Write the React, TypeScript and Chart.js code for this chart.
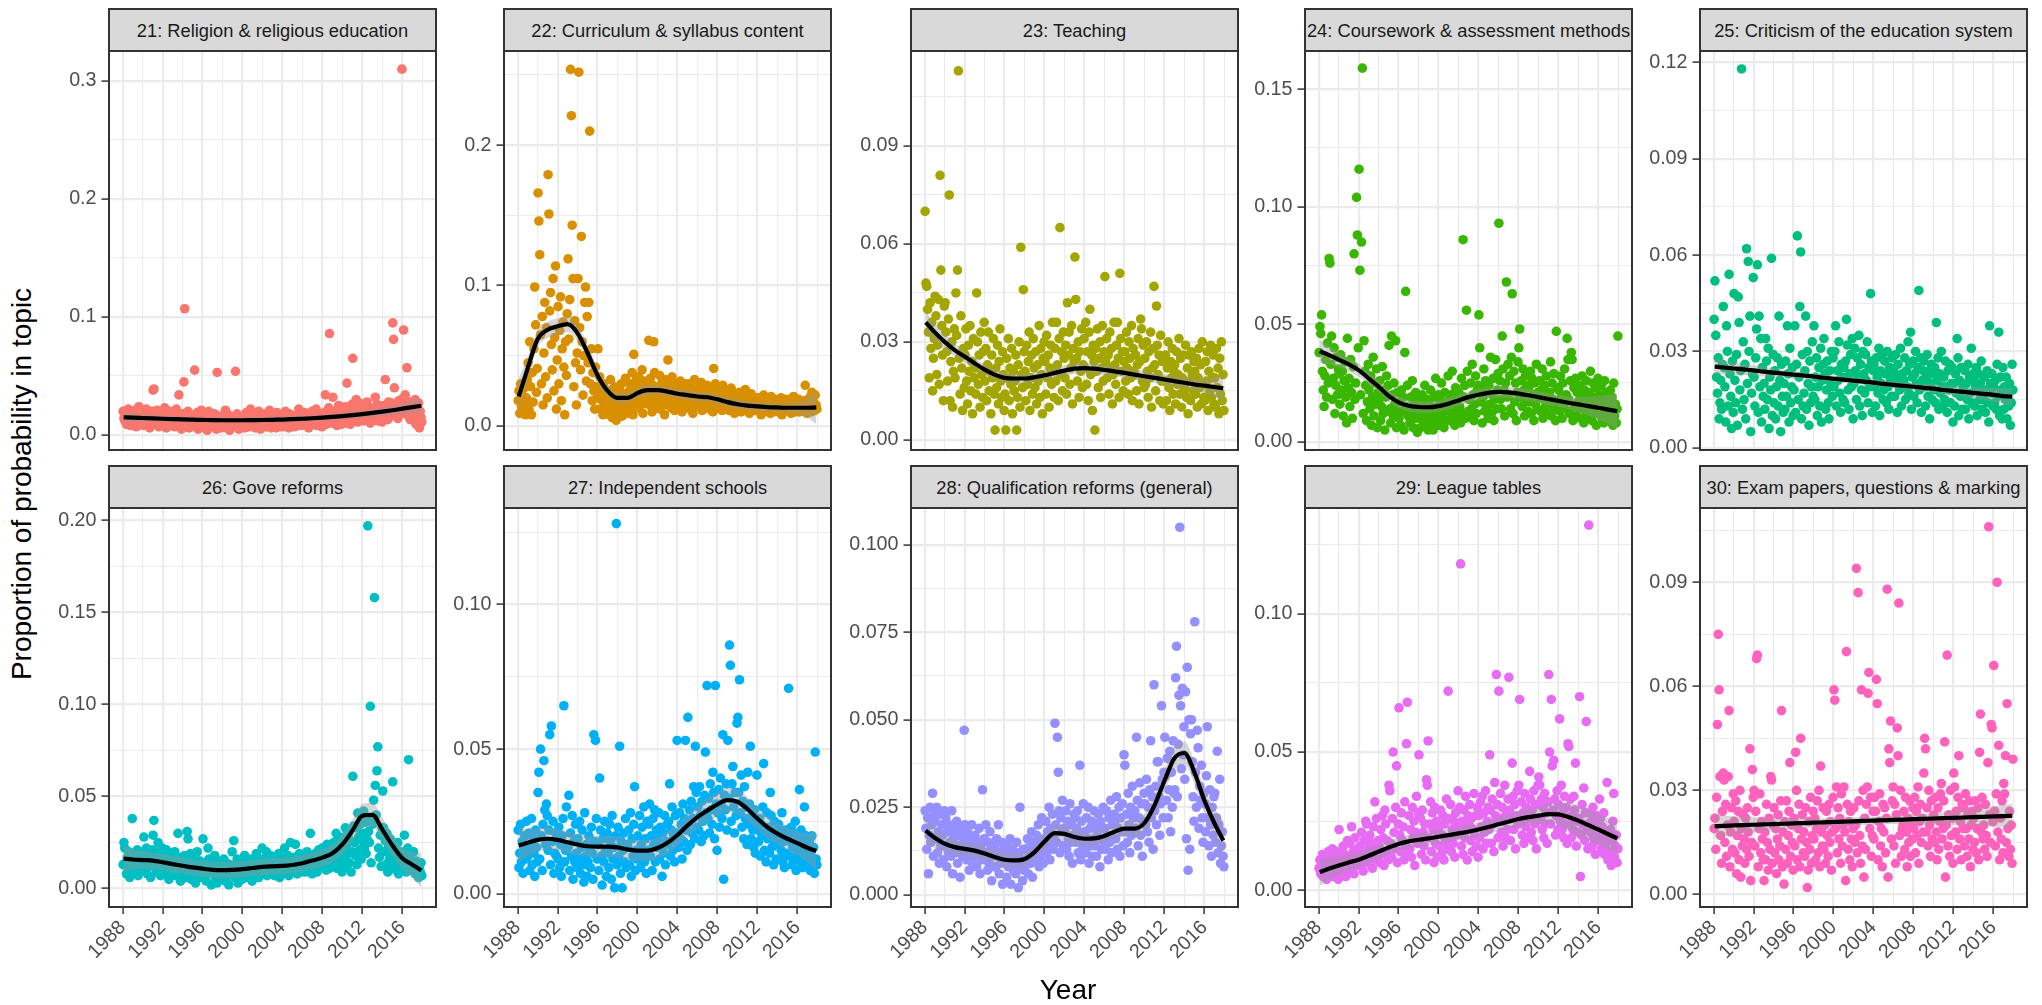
import React, { useEffect, useRef } from 'react';
import { Chart, registerables } from 'chart.js';

Chart.register(...registerables);

const FONT = '"Liberation Sans", Arial, Helvetica, sans-serif';
Chart.defaults.font.family = FONT;

// Monthly observations, Jan 1988 .. Dec 2017 (one row per year).
// Values are topic proportions expressed in thousandths (12 = 0.012).
const FIRST_YEAR = 1988;

const religion = [
  20, 14, 12, 18, 9, 15, 22, 11, 16, 8, 13, 19,
  10, 17, 21, 12, 7, 15, 13, 24, 11, 9, 16, 14,
  12, 8, 19, 15, 22, 10, 13, 17, 6, 14, 11, 20,
  38, 39, 13, 9, 16, 21, 11, 7, 14, 18, 10, 12,
  15, 9, 23, 12, 6, 17, 11, 14, 20, 8, 13, 10,
  11, 19, 7, 14, 22, 10, 16, 34, 9, 13, 5, 18,
  12, 45, 107, 8, 15, 11, 20, 6, 14, 17, 9, 13,
  10, 16, 55, 7, 12, 19, 5, 14, 11, 8, 21, 13,
  9, 14, 6, 17, 11, 4, 13, 20, 8, 15, 10, 12,
  7, 13, 18, 10, 5, 53, 12, 9, 16, 6, 14, 11,
  11, 8, 15, 21, 6, 12, 9, 17, 4, 13, 10, 7,
  14, 9, 12, 54, 7, 18, 11, 5, 15, 10, 13, 8,
  10, 16, 6, 12, 19, 9, 14, 7, 11, 22, 8, 13,
  9, 12, 17, 6, 11, 14, 8, 20, 10, 5, 15, 12,
  13, 8, 11, 18, 7, 15, 10, 12, 21, 9, 6, 14,
  11, 16, 9, 13, 6, 19, 12, 8, 14, 10, 17, 7,
  12, 9, 15, 20, 8, 11, 13, 6, 18, 10, 14, 9,
  15, 10, 7, 13, 17, 11, 9, 22, 12, 8, 14, 16,
  10, 14, 19, 8, 12, 16, 11, 6, 15, 13, 9, 20,
  13, 17, 9, 12, 22, 8, 15, 11, 18, 10, 14, 7,
  16, 12, 19, 34, 9, 14, 11, 23, 86, 13, 17, 10,
  32, 15, 11, 20, 13, 8, 18, 25, 12, 16, 9, 22,
  14, 19, 12, 24, 10, 44, 17, 13, 21, 9, 16, 26,
  65, 18, 13, 22, 30, 15, 11, 20, 27, 14, 17, 24,
  19, 12, 25, 16, 21, 28, 13, 18, 23, 10, 20, 15,
  22, 17, 14, 32, 19, 26, 12, 21, 16, 24, 18, 11,
  20, 25, 15, 47, 18, 23, 13, 28, 21, 16, 27, 19,
  95, 81, 40, 22, 17, 26, 14, 29, 20, 24, 18, 310,
  31, 89, 25, 34, 19, 57, 22, 16, 28, 13, 21, 26,
  18, 24, 13, 30, 9, 22, 17, 27, 6, 20, 15, 11,
];

const curriculum = [
  18, 25, 9, 30, 14, 22, 11, 27, 16, 8, 20, 33,
  45, 12, 60, 28, 8, 38, 17, 55, 99, 72, 24, 41,
  166, 146, 122, 65, 30, 78, 15, 52, 88, 35, 70, 20,
  179, 151, 82, 95, 58, 40, 105, 25, 63, 114, 12, 47,
  85, 30, 68, 92, 18, 55, 74, 42, 8, 60, 36, 80,
  119, 62, 90, 254, 221, 143, 105, 28, 75, 45, 15, 52,
  105, 252, 70, 40, 135, 60, 22, 50, 88, 99, 32, 78,
  45, 88, 210, 30, 55, 18, 38, 25, 12, 42, 28, 20,
  55, 22, 35, 12, 28, 18, 8, 30, 15, 24, 10, 20,
  14, 25, 8, 33, 18, 6, 22, 12, 28, 16, 4, 20,
  19, 10, 26, 14, 30, 7, 22, 16, 12, 34, 18, 9,
  24, 15, 30, 11, 20, 38, 8, 51, 27, 17, 33, 13,
  22, 35, 14, 28, 18, 40, 9, 25, 32, 16, 30, 20,
  26, 61, 15, 34, 21, 10, 29, 60, 38, 18, 24, 13,
  20, 28, 36, 12, 23, 31, 17, 26, 8, 33, 21, 15,
  47, 18, 29, 24, 13, 35, 20, 27, 11, 22, 30, 16,
  21, 26, 15, 32, 18, 10, 28, 23, 14, 30, 19, 25,
  17, 24, 30, 12, 22, 27, 9, 20, 33, 15, 26, 19,
  22, 14, 28, 19, 31, 11, 24, 17, 26, 13, 21, 29,
  18, 25, 12, 20, 16, 27, 10, 41, 23, 30, 15, 21,
  20, 13, 26, 17, 24, 11, 29, 19, 15, 22, 12, 25,
  16, 23, 11, 20, 27, 14, 18, 24, 9, 21, 17, 13,
  19, 12, 24, 16, 10, 22, 15, 20, 13, 26, 11, 18,
  14, 21, 9, 17, 23, 12, 16, 19, 11, 15, 20, 13,
  17, 11, 20, 14, 8, 18, 13, 22, 10, 16, 12, 19,
  12, 18, 15, 9, 21, 13, 16, 10, 19, 14, 11, 17,
  15, 10, 18, 13, 20, 8, 16, 12, 14, 19, 11, 13,
  11, 17, 13, 19, 9, 15, 12, 21, 14, 10, 16, 12,
  14, 19, 10, 16, 12, 13, 15, 11, 18, 29, 17, 9,
  16, 12, 20, 14, 10, 24, 13, 17, 11, 22, 15, 12,
];

const teaching = [
  70, 48, 47, 40, 33, 19, 42, 28, 36, 15, 25, 31,
  44, 38, 20, 29, 43, 17, 81, 52, 35, 26, 12, 41,
  42, 33, 27, 18, 37, 75, 12, 24, 30, 10, 21, 34,
  19, 45, 32, 52, 113, 25, 14, 38, 22, 9, 28, 16,
  26, 34, 18, 11, 29, 21, 35, 15, 24, 8, 31, 19,
  22, 14, 45, 30, 17, 26, 10, 33, 20, 13, 27, 36,
  18, 28, 12, 23, 33, 15, 21, 8, 26, 19, 31, 14,
  3, 22, 16, 29, 11, 24, 34, 18, 13, 27, 20, 9,
  14, 3, 25, 19, 31, 12, 22, 17, 28, 8, 21, 15,
  18, 26, 3, 13, 23, 30, 10, 59, 20, 16, 46, 27,
  21, 12, 29, 17, 24, 33, 9, 19, 26, 14, 31, 22,
  16, 27, 11, 23, 18, 35, 13, 28, 20, 8, 25, 30,
  24, 14, 32, 19, 26, 10, 22, 29, 17, 36, 21, 13,
  28, 18, 36, 23, 12, 31, 65, 20, 27, 15, 33, 25,
  19, 29, 14, 42, 26, 33, 17, 22, 35, 11, 28, 24,
  56, 43, 25, 18, 30, 13, 27, 21, 34, 16, 23, 31,
  22, 36, 17, 27, 12, 33, 40, 20, 26, 9, 29, 24,
  3, 28, 21, 34, 16, 25, 30, 13, 22, 35, 18, 27,
  50, 24, 31, 19, 26, 14, 33, 22, 28, 11, 20, 36,
  23, 17, 29, 36, 25, 13, 51, 31, 21, 27, 15, 24,
  27, 18, 33, 22, 14, 30, 25, 19, 35, 12, 28, 21,
  20, 26, 15, 23, 31, 11, 24, 37, 34, 18, 29, 16,
  25, 17, 30, 21, 13, 27, 19, 33, 10, 22, 28, 47,
  23, 15, 41, 29, 20, 26, 12, 32, 18, 24, 11, 25,
  18, 26, 12, 22, 30, 16, 9, 24, 19, 28, 14, 21,
  23, 11, 27, 17, 20, 31, 14, 25, 10, 19, 26, 15,
  16, 29, 13, 22, 8, 26, 18, 12, 27, 20, 15, 24,
  21, 14, 25, 10, 19, 28, 16, 23, 11, 30, 17, 13,
  12, 24, 18, 27, 9, 21, 15, 29, 13, 19, 26, 11,
  19, 10, 28, 16, 22, 8, 25, 14, 30, 12, 20, 9,
];

const coursework = [
  38, 49, 46, 54, 30, 22, 15, 28, 35, 19, 42, 25,
  78, 76, 33, 45, 18, 27, 40, 12, 24, 36, 20, 31,
  29, 16, 37, 22, 30, 11, 26, 34, 19, 8, 44, 23,
  27, 15, 35, 21, 10, 32, 80, 18, 25, 104, 88, 40,
  116, 73, 20, 85, 159, 12, 43, 30, 24, 9, 17, 33,
  22, 14, 28, 7, 19, 36, 11, 25, 16, 31, 6, 21,
  18, 26, 9, 15, 32, 12, 22, 5, 19, 28, 13, 24,
  41, 14, 8, 45, 20, 11, 25, 16, 43, 6, 21, 13,
  10, 17, 7, 22, 13, 19, 5, 38, 64, 15, 24, 11,
  14, 8, 19, 12, 26, 6, 16, 10, 21, 13, 4, 18,
  10, 17, 6, 13, 20, 9, 15, 24, 7, 12, 18, 5,
  16, 11, 22, 8, 14, 5, 19, 12, 27, 9, 15, 20,
  7, 18, 12, 25, 10, 15, 6, 21, 13, 17, 9, 28,
  13, 9, 20, 16, 30, 11, 18, 7, 23, 14, 10, 19,
  21, 15, 8, 27, 12, 86, 19, 24, 10, 56, 30, 13,
  18, 11, 25, 14, 33, 20, 9, 16, 28, 12, 22, 24,
  54, 40, 17, 23, 8, 19, 31, 13, 26, 15, 21, 10,
  24, 16, 36, 12, 20, 27, 9, 18, 35, 14, 22, 29,
  93, 26, 18, 14, 45, 31, 22, 11, 25, 68, 19, 33,
  20, 28, 14, 36, 63, 12, 30, 17, 25, 9, 21, 34,
  40, 48, 19, 26, 15, 31, 22, 11, 28, 18, 24, 13,
  23, 17, 30, 12, 27, 20, 9, 25, 16, 33, 14, 21,
  19, 26, 13, 22, 31, 10, 18, 24, 15, 28, 12, 20,
  16, 21, 34, 11, 25, 18, 29, 14, 9, 47, 23, 17,
  22, 13, 28, 19, 10, 25, 16, 31, 14, 20, 44, 35,
  18, 12, 26, 38, 35, 9, 23, 15, 27, 11, 21, 17,
  14, 24, 10, 19, 28, 15, 8, 22, 13, 26, 18, 11,
  21, 13, 30, 16, 9, 25, 19, 12, 23, 7, 17, 27,
  12, 20, 15, 24, 10, 18, 8, 26, 14, 21, 11, 16,
  17, 9, 22, 13, 19, 7, 25, 11, 16, 8, 14, 45,
];

const criticism = [
  40, 52, 35, 22, 17, 28, 9, 14, 21, 12, 26, 44,
  25, 19, 8, 38, 30, 13, 54, 23, 16, 6, 27, 11,
  48, 21, 14, 29, 7, 47, 39, 18, 24, 118, 12, 33,
  15, 26, 9, 62, 20, 58, 30, 41, 5, 17, 23, 53,
  22, 13, 28, 37, 57, 11, 41, 19, 34, 8, 25, 16,
  20, 12, 34, 27, 15, 31, 6, 22, 18, 59, 10, 29,
  14, 24, 9, 19, 28, 13, 41, 21, 5, 26, 16, 11,
  20, 12, 27, 16, 38, 23, 8, 31, 14, 19, 25, 10,
  18, 38, 11, 26, 66, 15, 22, 44, 61, 9, 29, 13,
  17, 24, 41, 12, 30, 20, 7, 27, 14, 19, 33, 16,
  38, 15, 22, 28, 10, 19, 25, 13, 31, 8, 21, 26,
  34, 23, 12, 18, 27, 14, 9, 24, 20, 30, 16, 28,
  19, 30, 38, 13, 24, 21, 33, 17, 11, 26, 22, 15,
  25, 14, 27, 40, 32, 18, 12, 23, 29, 19, 34, 9,
  20, 31, 24, 15, 28, 22, 35, 13, 26, 18, 10, 30,
  23, 17, 29, 21, 33, 14, 25, 19, 48, 27, 11, 24,
  26, 19, 13, 28, 22, 17, 31, 10, 24, 20, 29, 15,
  18, 27, 23, 14, 30, 19, 12, 25, 21, 16, 28, 22,
  24, 16, 29, 20, 11, 26, 22, 18, 31, 13, 23, 19,
  21, 28, 15, 24, 19, 33, 17, 26, 36, 12, 22, 27,
  16, 23, 30, 20, 14, 25, 49, 18, 28, 11, 21, 24,
  27, 19, 13, 22, 29, 16, 24, 9, 20, 26, 15, 23,
  18, 25, 14, 39, 21, 28, 12, 23, 17, 30, 19, 13,
  22, 15, 27, 19, 11, 24, 18, 26, 14, 20, 25, 8,
  20, 13, 23, 17, 34, 28, 10, 21, 16, 25, 12, 19,
  18, 24, 12, 20, 15, 26, 9, 22, 17, 31, 14, 23,
  21, 13, 19, 25, 10, 18, 23, 15, 20, 27, 12, 16,
  15, 22, 11, 18, 24, 14, 8, 38, 20, 17, 23, 13,
  19, 14, 21, 12, 26, 16, 36, 10, 22, 18, 9, 25,
  12, 19, 15, 22, 9, 17, 13, 20, 7, 14, 26, 18,
];

const gove = [
  13, 25, 22, 14, 8, 17, 11, 20, 6, 15, 10, 38,
  18, 12, 19, 9, 16, 21, 7, 14, 18, 11, 13, 20,
  16, 28, 10, 15, 22, 8, 19, 12, 17, 6, 14, 21,
  29, 37, 13, 20, 9, 16, 25, 11, 18, 7, 15, 22,
  14, 19, 8, 12, 21, 10, 17, 5, 13, 16, 9, 18,
  15, 11, 20, 7, 14, 9, 30, 17, 12, 4, 16, 10,
  13, 8, 18, 11, 6, 31, 27, 15, 10, 19, 5, 12,
  14, 9, 17, 3, 12, 20, 8, 11, 15, 6, 13, 10,
  27, 10, 7, 14, 4, 11, 22, 16, 9, 13, 2, 12,
  8, 13, 18, 6, 10, 3, 15, 9, 12, 5, 11, 14,
  9, 16, 12, 4, 14, 7, 11, 2, 13, 8, 10, 20,
  10, 26, 6, 13, 9, 16, 3, 11, 8, 14, 12, 5,
  9, 12, 18, 7, 11, 14, 6, 10, 16, 8, 13, 4,
  11, 15, 8, 13, 19, 10, 17, 6, 12, 9, 14, 22,
  13, 9, 16, 11, 20, 7, 12, 15, 10, 18, 8, 14,
  10, 14, 7, 12, 17, 9, 13, 19, 6, 11, 15, 8,
  12, 16, 22, 9, 14, 11, 18, 7, 13, 25, 10, 15,
  14, 10, 17, 24, 12, 8, 15, 11, 19, 13, 9, 16,
  11, 15, 18, 9, 13, 20, 10, 16, 14, 30, 12, 8,
  14, 11, 17, 19, 13, 9, 16, 21, 12, 15, 18, 22,
  15, 20, 12, 17, 10, 24, 14, 19, 11, 16, 22, 13,
  18, 25, 14, 21, 30, 11, 27, 16, 19, 13, 23, 9,
  22, 28, 17, 33, 12, 24, 19, 30, 14, 26, 9, 20,
  61, 34, 25, 18, 33, 13, 41, 28, 21, 35, 16, 26,
  30, 42, 22, 36, 19, 27, 197, 31, 25, 99, 14, 38,
  35, 48, 158, 56, 40, 64, 77, 22, 17, 29, 12, 33,
  53, 33, 20, 26, 13, 30, 9, 23, 16, 27, 11, 19,
  58, 24, 15, 21, 10, 18, 25, 8, 14, 20, 12, 17,
  16, 11, 29, 19, 9, 14, 22, 70, 13, 18, 10, 15,
  12, 20, 12, 8, 15, 10, 13, 6, 11, 9, 14, 7,
];

const independent = [
  22, 9, 14, 24, 11, 18, 7, 16, 20, 12, 25, 15,
  13, 21, 8, 17, 26, 10, 19, 14, 6, 22, 16, 11,
  35, 42, 12, 50, 20, 8, 24, 46, 29, 17, 31, 27,
  15, 22, 55, 10, 58, 18, 25, 7, 14, 21, 13, 19,
  12, 23, 9, 17, 6, 20, 26, 65, 11, 15, 30, 16,
  16, 34, 8, 21, 13, 27, 5, 18, 11, 24, 14, 9,
  19, 12, 25, 7, 16, 22, 10, 4, 28, 13, 17, 6,
  11, 20, 15, 9, 23, 14, 5, 55, 18, 53, 26, 12,
  17, 8, 40, 22, 13, 3, 19, 11, 25, 15, 6, 21,
  14, 9, 24, 18, 5, 27, 12, 16, 2, 20, 128, 10,
  23, 13, 51, 7, 18, 2, 15, 21, 11, 26, 9, 17,
  16, 22, 10, 28, 6, 19, 13, 24, 37, 8, 15, 12,
  20, 12, 27, 9, 17, 23, 14, 30, 11, 19, 7, 25,
  15, 24, 31, 13, 20, 8, 26, 17, 29, 11, 22, 16,
  19, 28, 12, 23, 16, 6, 21, 14, 27, 10, 18, 24,
  17, 25, 38, 13, 22, 30, 15, 20, 11, 27, 18, 53,
  21, 16, 28, 19, 24, 12, 31, 18, 26, 53, 22, 15,
  61, 24, 29, 17, 32, 21, 26, 37, 19, 51, 35, 23,
  30, 22, 37, 27, 18, 32, 25, 20, 34, 49, 28, 72,
  26, 33, 21, 38, 29, 24, 42, 35, 19, 72, 31, 15,
  28, 36, 23, 40, 31, 26, 55, 5, 34, 29, 38, 22,
  53, 33, 86, 79, 25, 38, 44, 30, 21, 35, 27, 59,
  61, 35, 74, 28, 41, 23, 32, 19, 37, 26, 30, 17,
  42, 24, 31, 51, 19, 27, 22, 16, 29, 14, 25, 41,
  22, 18, 26, 13, 24, 20, 30, 45, 15, 21, 11, 28,
  19, 23, 14, 35, 27, 16, 21, 10, 25, 18, 12, 22,
  17, 24, 12, 20, 15, 28, 11, 18, 9, 22, 14, 19,
  20, 71, 13, 18, 23, 10, 16, 21, 12, 25, 8, 15,
  14, 19, 36, 11, 22, 16, 9, 13, 30, 17, 20, 10,
  15, 11, 18, 8, 13, 20, 9, 16, 7, 49, 12, 10,
];

const qualification = [
  24, 19, 13, 22, 6, 17, 25, 15, 20, 29, 11, 23,
  21, 16, 25, 12, 18, 9, 23, 14, 20, 17, 10, 24,
  14, 22, 8, 18, 12, 20, 15, 11, 24, 6, 16, 19,
  12, 18, 21, 9, 14, 17, 5, 13, 19, 11, 16, 47,
  20, 15, 10, 18, 13, 7, 16, 12, 20, 9, 14, 11,
  17, 13, 8, 15, 11, 19, 6, 14, 10, 30, 12, 16,
  10, 20, 12, 7, 15, 9, 18, 13, 4, 11, 14, 8,
  13, 8, 16, 11, 20, 6, 12, 9, 15, 3, 10, 14,
  9, 12, 5, 14, 8, 11, 16, 3, 10, 13, 7, 9,
  11, 6, 15, 9, 2, 12, 25, 8, 10, 4, 13, 7,
  8, 13, 10, 16, 6, 11, 14, 9, 18, 5, 12, 15,
  14, 10, 17, 12, 20, 8, 15, 11, 22, 13, 9, 16,
  16, 21, 12, 18, 14, 25, 10, 19, 15, 23, 13, 17,
  49, 20, 15, 45, 35, 24, 12, 22, 18, 27, 14, 19,
  18, 24, 13, 21, 16, 11, 26, 15, 20, 9, 17, 23,
  22, 15, 19, 24, 12, 17, 37, 10, 21, 14, 26, 18,
  17, 12, 22, 15, 25, 9, 19, 14, 21, 11, 16, 24,
  14, 20, 11, 18, 23, 16, 8, 21, 13, 19, 25, 15,
  19, 13, 24, 17, 10, 22, 15, 27, 12, 20, 16, 23,
  21, 16, 28, 13, 19, 25, 11, 22, 18, 26, 14, 40,
  37, 18, 23, 15, 29, 20, 12, 25, 17, 31, 22, 24,
  24, 19, 45, 27, 14, 22, 32, 17, 26, 11, 21, 29,
  26, 20, 33, 18, 25, 15, 30, 44, 22, 28, 13, 60,
  24, 31, 20, 38, 38, 28, 17, 26, 54, 33, 22, 35,
  45, 34, 27, 39, 22, 30, 41, 18, 35, 25, 44, 29,
  30, 62, 71, 28, 43, 57, 105, 54, 36, 59, 40, 48,
  33, 58, 16, 65, 7, 50, 13, 46, 50, 38, 28, 21,
  78, 35, 25, 47, 42, 19, 31, 27, 37, 22, 15, 29,
  26, 18, 34, 48, 22, 14, 30, 20, 11, 25, 17, 28,
  29, 15, 22, 41, 12, 20, 33, 9, 14, 18, 11, 8,
];

const league = [
  8, 11, 6, 9, 13, 5, 10, 7, 12, 4, 9, 14,
  10, 6, 13, 8, 15, 5, 11, 9, 14, 7, 12, 4,
  22, 9, 14, 6, 11, 16, 8, 13, 5, 10, 18, 7,
  12, 17, 8, 23, 10, 14, 6, 19, 11, 9, 15, 13,
  11, 16, 9, 21, 13, 7, 18, 12, 25, 24, 10, 15,
  14, 20, 12, 17, 8, 23, 15, 32, 11, 26, 13, 18,
  16, 10, 22, 13, 27, 19, 9, 29, 24, 14, 18, 11,
  38, 36, 17, 12, 26, 50, 21, 15, 30, 45, 10, 24,
  66, 20, 14, 28, 18, 23, 11, 32, 16, 53, 68, 13,
  27, 15, 22, 12, 30, 19, 25, 9, 21, 34, 17, 28,
  49, 18, 26, 13, 29, 21, 16, 24, 11, 40, 38, 54,
  19, 24, 32, 14, 28, 22, 10, 30, 17, 25, 12, 21,
  23, 16, 29, 13, 20, 27, 11, 24, 18, 33, 15, 72,
  26, 19, 31, 14, 22, 17, 25, 12, 28, 20, 23, 36,
  21, 30, 118, 16, 25, 13, 29, 19, 34, 23, 11, 27,
  24, 31, 18, 26, 14, 22, 35, 20, 27, 16, 30, 12,
  27, 19, 32, 23, 34, 15, 28, 21, 36, 17, 25, 30,
  22, 49, 29, 17, 33, 24, 14, 39, 27, 78, 31, 19,
  72, 26, 35, 21, 30, 16, 25, 38, 19, 28, 22, 33,
  77, 29, 18, 26, 46, 34, 22, 31, 15, 27, 36, 24,
  38, 69, 25, 32, 20, 28, 17, 35, 23, 30, 19, 26,
  27, 43, 33, 21, 29, 18, 36, 24, 31, 15, 25, 38,
  41, 38, 26, 33, 22, 30, 19, 35, 24, 28, 17, 32,
  78, 50, 24, 69, 45, 29, 47, 33, 20, 27, 36, 22,
  31, 62, 25, 38, 22, 28, 19, 34, 24, 30, 17, 53,
  52, 24, 33, 19, 27, 22, 34, 29, 46, 16, 25, 21,
  26, 70, 5, 20, 31, 24, 37, 18, 28, 61, 22, 15,
  132, 28, 21, 25, 16, 30, 19, 23, 13, 27, 18, 24,
  20, 33, 26, 15, 23, 18, 28, 13, 21, 17, 39, 11,
  19, 14, 22, 9, 18, 25, 35, 12, 16, 20, 10, 15,
];

const exam = [
  19, 22, 13, 28, 49, 75, 59, 34, 17, 9, 24, 35,
  33, 15, 26, 11, 20, 34, 53, 8, 18, 25, 13, 29,
  21, 12, 27, 6, 17, 24, 10, 30, 5, 19, 14, 23,
  16, 9, 22, 13, 25, 18, 11, 42, 4, 15, 36, 28,
  30, 14, 24, 68, 69, 8, 19, 29, 12, 21, 16, 10,
  4, 18, 10, 26, 15, 7, 22, 13, 34, 33, 9, 20,
  25, 12, 19, 6, 16, 23, 10, 14, 27, 53, 8, 18,
  3, 21, 13, 27, 9, 17, 24, 38, 11, 20, 15, 7,
  22, 14, 41, 30, 10, 19, 26, 8, 45, 16, 23, 12,
  18, 11, 25, 15, 2, 7, 21, 13, 28, 9, 17, 24,
  16, 22, 10, 19, 27, 12, 30, 8, 37, 18, 14, 25,
  13, 20, 9, 24, 17, 11, 26, 15, 21, 7, 18, 28,
  59, 56, 19, 31, 12, 25, 16, 22, 9, 29, 14, 20,
  31, 18, 4, 70, 26, 13, 21, 10, 24, 16, 8, 19,
  25, 15, 20, 94, 12, 87, 27, 17, 9, 59, 14, 30,
  5, 22, 13, 26, 31, 58, 64, 19, 28, 11, 17, 24,
  16, 28, 24, 62, 55, 10, 21, 29, 14, 19, 8, 26,
  18, 25, 12, 22, 88, 5, 42, 38, 50, 16, 27, 31,
  14, 26, 9, 23, 48, 40, 84, 17, 30, 11, 19, 20,
  24, 13, 28, 18, 8, 22, 15, 27, 11, 20, 16, 25,
  19, 28, 12, 24, 17, 31, 9, 21, 26, 15, 22, 18,
  35, 45, 42, 18, 25, 14, 30, 20, 11, 27, 16, 22,
  23, 15, 28, 18, 10, 25, 13, 21, 29, 32, 16, 19,
  27, 44, 5, 20, 69, 14, 23, 11, 30, 17, 22, 9,
  35, 31, 18, 24, 13, 28, 40, 16, 21, 10, 26, 19,
  25, 14, 29, 19, 11, 23, 16, 27, 8, 20, 24, 13,
  22, 15, 27, 12, 19, 25, 10, 41, 52, 18, 28, 16,
  20, 13, 26, 17, 11, 38, 106, 23, 15, 49, 48, 21,
  66, 24, 14, 29, 90, 18, 43, 10, 22, 16, 27, 12,
  32, 29, 40, 15, 55, 19, 11, 24, 13, 20, 9, 39,
];

// Smoothed trend (loess / lm) read at these years, in thousandths, with band half-widths.
const SMOOTH_X = [
  1988.1, 1989, 1990, 1991, 1992, 1993, 1994, 1995, 1996, 1997, 1998, 1999, 2000, 2001, 2002, 2003,
  2004, 2005, 2006, 2007, 2008, 2009, 2010, 2011, 2012, 2013, 2014, 2015, 2016, 2017, 2017.9,
];

const religionFit = [15, 14.7, 14.4, 14.1, 13.8, 13.5, 13.2, 13, 12.8, 12.6, 12.5, 12.5, 12.5, 12.6, 12.7, 12.9, 13.1, 13.4, 13.8, 14.2, 14.7, 15.3, 16, 16.8, 17.7, 18.7, 19.8, 21, 22.3, 23.6, 24.8];
const religionBand = [5, 4, 3.4, 3, 2.8, 2.6, 2.5, 2.5, 2.5, 2.5, 2.5, 2.5, 2.5, 2.5, 2.5, 2.5, 2.5, 2.5, 2.5, 2.5, 2.6, 2.7, 2.8, 3, 3.2, 3.4, 3.7, 4.2, 4.8, 5.6, 6.5];
const curriculumFit = [21, 41, 62, 68.5, 71, 72.5, 66, 52, 36, 25, 20, 20, 23.5, 25.5, 25.5, 24.5, 23, 22, 21, 20.5, 19, 17, 15.5, 14.5, 14, 13.5, 13.2, 13, 13, 13, 13.2];
const curriculumBand = [13, 8, 6, 5.7, 5.7, 5.7, 5.7, 5.7, 5.5, 4.5, 4, 3.8, 3.8, 3.8, 3.5, 3.5, 3.5, 3.5, 3.5, 3.5, 3.5, 3.5, 3.5, 3.5, 3.5, 3.5, 3.5, 3.8, 4.5, 7, 12];
const teachingFit = [36, 33, 30, 27.5, 25.5, 23.5, 21.5, 20, 19, 18.8, 18.8, 19.2, 19.8, 20.5, 21.2, 21.8, 22, 21.8, 21.4, 21, 20.5, 20, 19.5, 19, 18.5, 18, 17.5, 17, 16.6, 16.2, 15.8];
const teachingBand = [3.5, 2.8, 2.3, 2, 1.8, 1.7, 1.6, 1.6, 1.6, 1.6, 1.6, 1.6, 1.6, 1.6, 1.6, 1.6, 1.6, 1.6, 1.6, 1.6, 1.6, 1.6, 1.6, 1.6, 1.7, 1.7, 1.8, 2, 2.3, 3, 4];
const courseworkFit = [38.5, 37, 35, 33, 30.5, 27, 23.5, 19.5, 16.8, 15.3, 14.8, 14.7, 15.2, 16.2, 17.6, 19, 20, 20.8, 21.2, 21, 20.5, 19.8, 19, 18.2, 17.4, 16.6, 15.9, 15.2, 14.5, 13.7, 13];
const courseworkBand = [5, 4, 3.4, 3, 2.8, 2.6, 2.5, 2.5, 2.5, 2.5, 2.5, 2.5, 2.5, 2.5, 2.5, 2.5, 2.5, 2.5, 2.5, 2.5, 2.5, 2.5, 2.5, 2.5, 2.6, 2.8, 3.2, 4, 5, 6.2, 7.5];
const criticismFit = [25.3, 25, 24.7, 24.4, 24.1, 23.7, 23.4, 23.1, 22.8, 22.5, 22.2, 21.8, 21.5, 21.2, 20.9, 20.6, 20.3, 19.9, 19.6, 19.3, 19, 18.7, 18.4, 18, 17.7, 17.4, 17.1, 16.8, 16.5, 16.1, 15.9];
const criticismBand = [2.5, 2.2, 2, 1.8, 1.6, 1.5, 1.4, 1.3, 1.2, 1.1, 1.1, 1, 1, 1, 1, 1, 1, 1, 1, 1.1, 1.1, 1.2, 1.3, 1.4, 1.5, 1.6, 1.8, 2, 2.2, 2.5, 2.8];
const goveFit = [16.3, 15.8, 15.5, 15.2, 14.3, 13.3, 12.4, 11.5, 10.8, 10.2, 10, 10.2, 10.6, 11.2, 11.8, 12.1, 12.3, 12.8, 13.8, 15.2, 16.8, 19.2, 24, 31.5, 39.5, 40, 32, 23.5, 16.5, 13, 9.8];
const goveBand = [7, 5.5, 5, 4.6, 4.5, 4.5, 4.5, 4.5, 4.5, 4.5, 4.5, 4.5, 4.5, 4.5, 4.5, 4.5, 4.5, 4.5, 4.5, 4.6, 4.8, 5, 5.5, 6, 6.5, 6.5, 6.3, 6, 6, 7, 9.5];
const independentFit = [16.7, 17.6, 18.6, 19, 18.6, 17.8, 17, 16.4, 16.3, 16.3, 16, 15.3, 14.9, 14.9, 15.8, 17.6, 20.3, 23.6, 26.5, 28.8, 30.9, 32.4, 31.8, 29.3, 26, 23, 20.8, 19, 17.5, 15.9, 14.8];
const independentBand = [6, 4.8, 4.2, 3.9, 3.8, 3.7, 3.7, 3.7, 3.7, 3.7, 3.7, 3.7, 3.7, 3.7, 3.7, 3.8, 3.9, 4, 4.1, 4.2, 4.3, 4.3, 4.2, 4.1, 4, 3.9, 3.9, 4, 4.3, 5, 6.6];
const qualificationFit = [18.3, 16.3, 14.6, 13.6, 13.1, 12.6, 11.8, 10.8, 10, 9.8, 10.2, 12.2, 15.2, 17.6, 17.4, 16.5, 16, 16.1, 16.8, 18, 18.9, 18.9, 20.5, 25.5, 32.5, 39, 40.5, 35, 27, 20.5, 15.5];
const qualificationBand = [3.8, 3, 2.6, 2.3, 2.2, 2.1, 2.1, 2.1, 2.1, 2.1, 2.1, 2.1, 2.2, 2.3, 2.3, 2.2, 2.1, 2.1, 2.1, 2.2, 2.3, 2.4, 2.6, 2.9, 3.2, 3.3, 3.3, 3.3, 3.5, 4.2, 5.7];
const leagueFit = [6.6, 7.8, 9, 10.1, 11.1, 12.5, 14, 15.5, 16.8, 17.7, 18.3, 18.8, 19.4, 20, 20.6, 21.2, 22, 22.9, 23.9, 24.8, 25.8, 26.5, 27, 27.6, 27.5, 26.5, 25.2, 23.6, 22, 20.3, 18.8];
const leagueBand = [5, 4, 3.4, 3, 2.8, 2.6, 2.5, 2.5, 2.5, 2.5, 2.5, 2.5, 2.5, 2.5, 2.5, 2.5, 2.5, 2.5, 2.5, 2.6, 2.7, 2.9, 3.2, 3.6, 4.2, 5, 5.7, 5.7, 5.7, 5.7, 5.7];
const examFit = [19.7, 19.8, 19.9, 20, 20.1, 20.2, 20.3, 20.4, 20.5, 20.6, 20.7, 20.8, 20.9, 21, 21.1, 21.2, 21.3, 21.4, 21.5, 21.6, 21.7, 21.8, 21.9, 22, 22.1, 22.2, 22.3, 22.4, 22.5, 22.6, 22.7];
const examBand = [3.4, 3, 2.7, 2.4, 2.2, 2, 1.8, 1.6, 1.5, 1.4, 1.3, 1.2, 1.2, 1.2, 1.2, 1.2, 1.2, 1.2, 1.2, 1.3, 1.4, 1.5, 1.6, 1.8, 2, 2.2, 2.4, 2.7, 3, 3.2, 3.4];

// Axis ticks
const X_MIN = 1986.63;
const X_MAX = 2019.37;
const X_TICKS = [1988, 1990, 1992, 1994, 1996, 1998, 2000, 2002, 2004, 2006, 2008, 2010, 2012, 2014, 2016, 2018];
const X_MAJOR = [1988, 1992, 1996, 2000, 2004, 2008, 2012, 2016];

const yMajor01 = [0, 0.1, 0.2, 0.3];
const yMinor01 = [0.05, 0.15, 0.25];
const yMajor03 = [0, 0.03, 0.06, 0.09];
const yMajor03b = [0, 0.03, 0.06, 0.09, 0.12];
const yMinor03 = [0.015, 0.045, 0.075, 0.105];
const yMajor05 = [0, 0.05, 0.1, 0.15];
const yMajor05b = [0, 0.05, 0.1, 0.15, 0.2];
const yMajor05c = [0, 0.05, 0.1];
const yMinor05 = [0.025, 0.075, 0.125, 0.175];
const yMajor025 = [0, 0.025, 0.05, 0.075, 0.1];
const yMinor025 = [0.0125, 0.0375, 0.0625, 0.0875];

type PanelSpec = {
  title: string;
  color: string;
  values: number[];
  fit: number[];
  band: number[];
  yMin: number;
  yMax: number;
  major: number[];
  minor: number[];
  dec: number;
};

const PANELS: PanelSpec[] = [
  { title: '21: Religion & religious education', color: '#F8766D', values: religion, fit: religionFit, band: religionBand, yMin: -0.0127, yMax: 0.3254, major: yMajor01, minor: yMinor01, dec: 1 },
  { title: '22: Curriculum & syllabus content', color: '#D89000', values: curriculum, fit: curriculumFit, band: curriculumBand, yMin: -0.0171, yMax: 0.2671, major: [0, 0.1, 0.2], minor: yMinor01, dec: 1 },
  { title: '23: Teaching', color: '#A3A500', values: teaching, fit: teachingFit, band: teachingBand, yMin: -0.0031, yMax: 0.1191, major: yMajor03, minor: yMinor03, dec: 2 },
  { title: '24: Coursework & assessment methods', color: '#39B600', values: coursework, fit: courseworkFit, band: courseworkBand, yMin: -0.0035, yMax: 0.1663, major: yMajor05, minor: yMinor05, dec: 2 },
  { title: '25: Criticism of the education system', color: '#00BF7D', values: criticism, fit: criticismFit, band: criticismBand, yMin: -0.0007, yMax: 0.1236, major: yMajor03b, minor: yMinor03, dec: 2 },
  { title: '26: Gove reforms', color: '#00BFC4', values: gove, fit: goveFit, band: goveBand, yMin: -0.01, yMax: 0.2067, major: yMajor05b, minor: yMinor05, dec: 2 },
  { title: '27: Independent schools', color: '#00B0F6', values: independent, fit: independentFit, band: independentBand, yMin: -0.0046, yMax: 0.1334, major: yMajor05c, minor: yMinor05, dec: 2 },
  { title: '28: Qualification reforms (general)', color: '#9590FF', values: qualification, fit: qualificationFit, band: qualificationBand, yMin: -0.0035, yMax: 0.1105, major: yMajor025, minor: yMinor025, dec: 3 },
  { title: '29: League tables', color: '#E76BF3', values: league, fit: leagueFit, band: leagueBand, yMin: -0.006, yMax: 0.1382, major: yMajor05c, minor: yMinor05, dec: 2 },
  { title: '30: Exam papers, questions & marking', color: '#FF62BC', values: exam, fit: examFit, band: examBand, yMin: -0.0036, yMax: 0.1114, major: yMajor03, minor: yMinor03, dec: 2 },
];

// Layout (page pixels)
const COL_LEFT = [109, 504, 911, 1305, 1700];
const PANEL_W = 327;
const PANEL_H = 399;
const ROW_TOP = [51, 508];
const STRIP_TOP = [8, 465];
const STRIP_H = 44;
const AXIS_W = 62;
const PAD_T = 24;
const PAD_R = 10;
const PAD_B = 24;
const XAXIS_H = 70;

const GRID = '#EBEBEB';
const DARK = '#333333';
const TICK_TEXT = '#4D4D4D';
const BAND = 'rgba(153,153,153,0.4)';

const near = (list: number[], v: number) => list.some((m) => Math.abs(m - v) < 1e-9);

const borderPlugin = {
  id: 'panelBorder',
  afterDraw(chart: any) {
    const { ctx, chartArea: a } = chart;
    ctx.save();
    ctx.strokeStyle = DARK;
    ctx.lineWidth = 2;
    ctx.strokeRect(a.left, a.top, a.right - a.left, a.bottom - a.top);
    ctx.restore();
  },
};

function Panel({ spec, index }: { spec: PanelSpec; index: number }) {
  const ref = useRef<HTMLCanvasElement | null>(null);
  const col = index % 5;
  const row = Math.floor(index / 5);
  const bottomAxis = row === 1;
  const width = AXIS_W + PANEL_W + PAD_R;
  const height = PAD_T + PANEL_H + (bottomAxis ? XAXIS_H + 4 : PAD_B);

  useEffect(() => {
    const canvas = ref.current;
    if (!canvas) return;
    const points = spec.values.map((v, i) => ({ x: FIRST_YEAR + (i + 0.5) / 12, y: v / 1000 }));
    const fit = SMOOTH_X.map((x, i) => ({ x, y: spec.fit[i] / 1000 }));
    const lo = SMOOTH_X.map((x, i) => ({ x, y: (spec.fit[i] - spec.band[i]) / 1000 }));
    const hi = SMOOTH_X.map((x, i) => ({ x, y: (spec.fit[i] + spec.band[i]) / 1000 }));
    const yTicks = [...spec.major, ...spec.minor].sort((a, b) => a - b);

    const chart = new Chart(canvas, {
      type: 'line',
      data: {
        datasets: [
          {
            data: points,
            showLine: false,
            fill: false,
            pointRadius: 4.8,
            pointHoverRadius: 4.8,
            pointBackgroundColor: spec.color,
            pointBorderWidth: 0,
            borderColor: 'rgba(0,0,0,0)',
            backgroundColor: spec.color,
            order: 3,
          },
          {
            data: lo,
            pointRadius: 0,
            borderWidth: 0,
            borderColor: 'rgba(0,0,0,0)',
            backgroundColor: BAND,
            fill: false,
            tension: 0.4,
            cubicInterpolationMode: 'monotone',
            order: 2,
          },
          {
            data: hi,
            pointRadius: 0,
            borderWidth: 0,
            borderColor: 'rgba(0,0,0,0)',
            backgroundColor: BAND,
            fill: '-1',
            tension: 0.4,
            cubicInterpolationMode: 'monotone',
            order: 2,
          },
          {
            data: fit,
            pointRadius: 0,
            borderWidth: 4.2,
            borderColor: '#000000',
            backgroundColor: '#000000',
            fill: false,
            tension: 0.4,
            cubicInterpolationMode: 'monotone',
            order: 0,
          },
        ],
      } as any,
      options: {
        responsive: false,
        animation: false,
        devicePixelRatio: 1,
        events: [],
        layout: { padding: { top: PAD_T, right: PAD_R, bottom: bottomAxis ? 4 : PAD_B, left: 0 } },
        plugins: {
          legend: { display: false },
          tooltip: { enabled: false },
          title: { display: false },
          filler: { propagate: false, drawTime: 'beforeDatasetDraw' },
        },
        scales: {
          x: {
            type: 'linear',
            min: X_MIN,
            max: X_MAX,
            bounds: 'data',
            afterBuildTicks: (s: any) => {
              s.ticks = X_TICKS.map((v) => ({ value: v }));
            },
            afterFit: (s: any) => {
              s.height = bottomAxis ? XAXIS_H : 0;
            },
            border: { display: false },
            grid: {
              color: GRID,
              lineWidth: (c: any) => (c.tick && near(X_MAJOR, c.tick.value) ? 2.2 : 1.1),
              drawTicks: bottomAxis,
              tickLength: 7,
              tickWidth: 1.5,
              tickColor: (c: any) => (c.tick && near(X_MAJOR, c.tick.value) ? DARK : 'rgba(0,0,0,0)'),
            },
            ticks: {
              display: bottomAxis,
              autoSkip: false,
              minRotation: 45,
              maxRotation: 45,
              padding: 2,
              color: TICK_TEXT,
              font: { size: 19.7, family: FONT },
              callback: (v: any) => (near(X_MAJOR, Number(v)) ? String(v) : ''),
            },
          },
          y: {
            type: 'linear',
            min: spec.yMin,
            max: spec.yMax,
            bounds: 'data',
            afterBuildTicks: (s: any) => {
              s.ticks = yTicks.map((v) => ({ value: v }));
            },
            afterFit: (s: any) => {
              s.width = AXIS_W;
            },
            border: { display: false },
            grid: {
              color: GRID,
              lineWidth: (c: any) => (c.tick && near(spec.major, c.tick.value) ? 2.2 : 1.1),
              drawTicks: true,
              tickLength: 7.5,
              tickWidth: 1.5,
              tickColor: (c: any) => (c.tick && near(spec.major, c.tick.value) ? DARK : 'rgba(0,0,0,0)'),
            },
            ticks: {
              autoSkip: false,
              padding: 5,
              color: TICK_TEXT,
              font: { size: 19.7, family: FONT },
              callback: (v: any) => (near(spec.major, Number(v)) ? Number(v).toFixed(spec.dec) : ''),
            },
          },
        },
      } as any,
      plugins: [borderPlugin],
    });
    return () => chart.destroy();
  }, [spec, bottomAxis]);

  return (
    <>
      <canvas
        ref={ref}
        width={width}
        height={height}
        style={{
          position: 'absolute',
          left: COL_LEFT[col] - AXIS_W,
          top: ROW_TOP[row] - PAD_T,
          width,
          height,
        }}
      />
      <div
        style={{
          position: 'absolute',
          left: COL_LEFT[col] - 1,
          top: STRIP_TOP[row],
          width: PANEL_W + 2,
          height: STRIP_H,
          boxSizing: 'border-box',
          border: `2px solid ${DARK}`,
          background: '#D9D9D9',
          display: 'flex',
          alignItems: 'center',
          justifyContent: 'center',
          paddingTop: 2,
          fontFamily: FONT,
          fontSize: 18.3,
          color: '#1A1A1A',
          whiteSpace: 'nowrap',
          overflow: 'visible',
        }}
      >
        {spec.title}
      </div>
    </>
  );
}

export default function App() {
  return (
    <div
      style={{
        position: 'fixed',
        left: 0,
        top: 0,
        width: 2042,
        height: 1005,
        background: '#FFFFFF',
        overflow: 'hidden',
        fontFamily: FONT,
      }}
    >
      {PANELS.map((p, i) => (
        <Panel key={p.title} spec={p} index={i} />
      ))}
      <div
        style={{
          position: 'absolute',
          left: 22,
          top: 484,
          transform: 'translate(-50%, -50%) rotate(-90deg)',
          whiteSpace: 'nowrap',
          fontSize: 28,
          lineHeight: '28px',
          color: '#000000',
        }}
      >
        Proportion of probability in topic
      </div>
      <div
        style={{
          position: 'absolute',
          left: 1068,
          top: 976,
          transform: 'translateX(-50%)',
          whiteSpace: 'nowrap',
          fontSize: 28,
          lineHeight: '28px',
          color: '#000000',
        }}
      >
        Year
      </div>
    </div>
  );
}
